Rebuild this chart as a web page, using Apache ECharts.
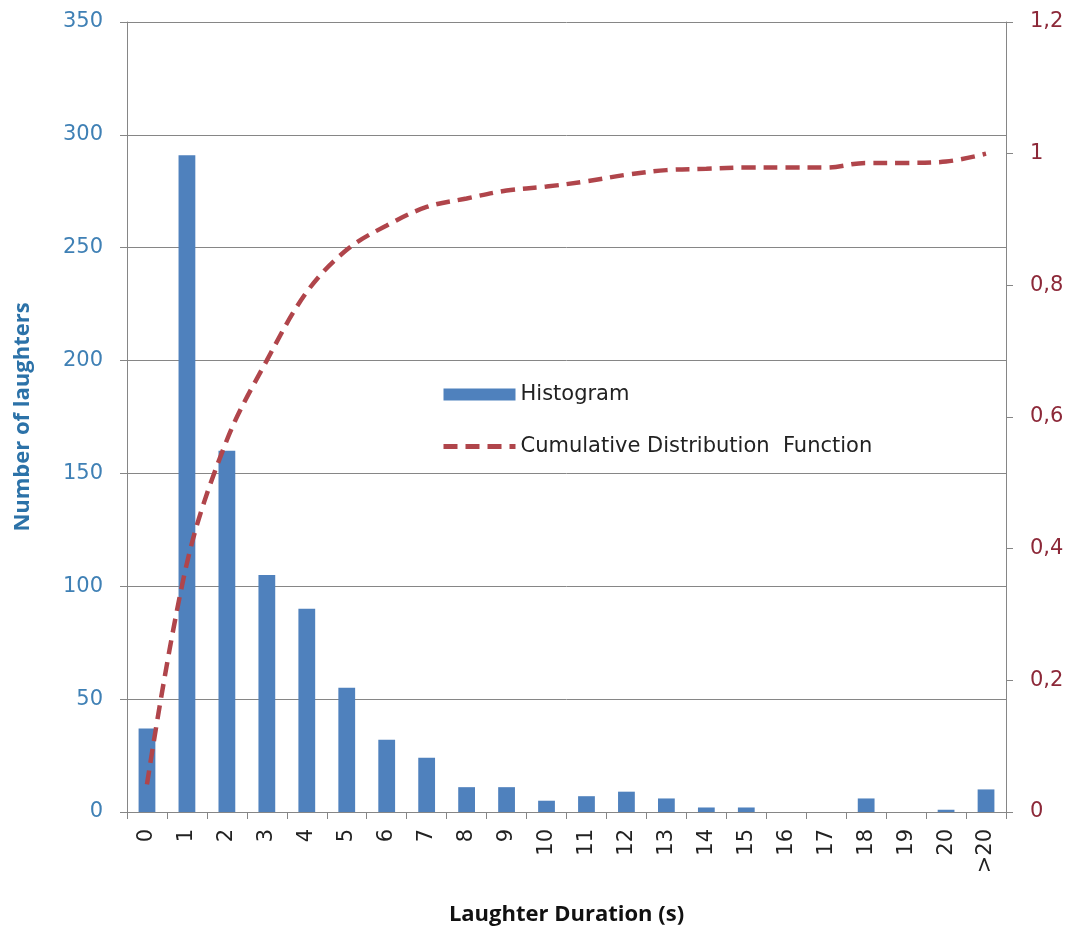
<!DOCTYPE html>
<html>
<head>
<meta charset="utf-8">
<script src="https://cdn.jsdelivr.net/npm/echarts@6/dist/echarts.min.js"></script>
<style>
html,body{margin:0;padding:0;background:#fff;}
#chart{width:1074px;height:933px;}
</style>
</head>
<body>
<div id="chart"></div>
<script>
const categories = ['0','1','2','3','4','5','6','7','8','9','10','11','12','13','14','15','16','17','18','19','20','>20'];
const histogram = [37,291,160,105,90,55,32,24,11,11,5,7,9,6,2,2,0,0,6,0,1,10];
const cdf = [0.042,0.378,0.565,0.686,0.790,0.854,0.891,0.919,0.932,0.944,0.950,0.958,0.968,0.975,0.977,0.979,0.979,0.979,0.986,0.986,0.988,1.0];
const leftTicks = {min:0, max:350, interval:50};
const rightTicks = {min:0, max:1.2, interval:0.2};

const FONT = '"DejaVu Sans", sans-serif';
const TFONT = '"Open Sans", Lato, sans-serif';
const RED = '#b0454b';
const chart = echarts.init(document.getElementById('chart'));
chart.setOption({
  animation:false,
  backgroundColor:'#ffffff',
  grid:{left:127,right:68,top:22,bottom:121},
  legend:{
    orient:'vertical', left:436, top:379,
    itemWidth:72, itemHeight:12, itemGap:31,
    textStyle:{fontFamily:FONT,fontSize:21,color:'#222'},
    data:[
      {name:'Histogram', icon:'rect'},
      {name:'Cumulative Distribution  Function',
        itemStyle:{opacity:0},
        lineStyle:{color:RED,width:5,type:[14,8]}}
    ]
  },
  xAxis:{
    type:'category', data:categories, boundaryGap:true,
    name:'Laughter Duration (s)', nameLocation:'middle', nameGap:92,
    nameTextStyle:{fontFamily:TFONT,fontSize:22,fontWeight:'bold',color:'#111'},
    axisLine:{lineStyle:{color:'#868686',width:1}},
    axisTick:{show:true,length:7,alignWithLabel:false,interval:0,lineStyle:{color:'#868686'}},
    axisLabel:{rotate:90,interval:0,margin:17,fontFamily:FONT,fontSize:21,color:'#222'}
  },
  yAxis:[
    {
      type:'value', min:leftTicks.min, max:leftTicks.max, interval:leftTicks.interval,
      name:'Number of laughters', nameLocation:'middle', nameGap:93,
      nameTextStyle:{fontFamily:TFONT,fontSize:22,fontWeight:'bold',color:'#2c72a8'},
      axisLine:{show:true,lineStyle:{color:'#868686'}},
      axisTick:{show:true,length:7,lineStyle:{color:'#868686'}},
      axisLabel:{margin:24,fontFamily:FONT,fontSize:21,color:'#3f80b5'},
      splitLine:{show:true,lineStyle:{color:'#868686',width:1}}
    },
    {
      type:'value', min:rightTicks.min, max:rightTicks.max, interval:rightTicks.interval,
      position:'right',
      axisLine:{show:true,lineStyle:{color:'#868686'}},
      axisTick:{show:true,length:7,lineStyle:{color:'#868686'}},
      axisLabel:{margin:24,fontFamily:FONT,fontSize:21,color:'#8c2838',
        formatter:function(v){return (Math.round(v*10)/10).toString().replace('.',',');}},
      splitLine:{show:false}
    }
  ],
  series:[
    {
      name:'Histogram', type:'bar', data:histogram, yAxisIndex:0,
      barWidth:'42%',
      itemStyle:{color:'#4f81bd'}
    },
    {
      name:'Cumulative Distribution  Function', type:'line', data:cdf, yAxisIndex:1,
      smooth:0.35, symbol:'none',
      lineStyle:{color:RED,width:4.5,type:[14,8]},
      itemStyle:{color:RED}
    }
  ]
});
</script>
</body>
</html>
